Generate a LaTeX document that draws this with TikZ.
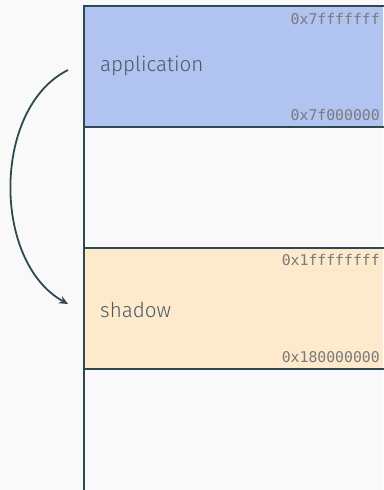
\documentclass[tikz,border=0pt]{standalone}
\usepackage{fontspec}
\setmainfont{Fira Sans Light}
\newfontfamily\hexfont{DejaVu Sans Mono}
\usetikzlibrary{arrows.meta}
\definecolor{bg}{HTML}{F9F9F9}
\definecolor{edge}{HTML}{2E4A50}
\definecolor{appfill}{HTML}{B1C3F1}
\definecolor{shfill}{HTML}{FDE9CC}
\definecolor{labeltext}{HTML}{4A5A62}
\definecolor{hextext}{HTML}{7A7A7A}
\tikzset{
  region/.style={draw=edge, line width=2.2pt},
  regname/.style={anchor=west, text=labeltext, font=\fontsize{20.6}{24}\selectfont, inner sep=0pt},
  addr/.style={anchor=east, text=hextext, font=\hexfont\fontsize{14.8}{17}\selectfont, inner sep=0pt},
  jump/.style={draw=edge, line width=1.8pt, -{Stealth[length=9pt,width=8pt,inset=3pt]}}
}
\begin{document}
\begin{tikzpicture}[x=1pt,y=-1pt]
  \useasboundingbox[fill=bg] (0,0) rectangle (383,490);
  % memory regions
  \fill[appfill] (84,6) rectangle (383,127);
  \fill[shfill] (84,248) rectangle (383,369);
  \draw[region] (390,6) -- (84,6) -- (84,491);
  \draw[region] (84,127) -- (390,127);
  \draw[region] (84,248) -- (390,248);
  \draw[region] (84,369) -- (390,369);
  % region names
  \node[regname] (app) at (100,66) {application};
  \node[regname] (sh) at (100,310) {shadow};
  % address bounds
  \node[addr] (a1) at (380,19) {0x7fffffff};
  \node[addr] (a2) at (380,115) {0x7f000000};
  \node[addr] (s1) at (380,260) {0x1ffffffff};
  \node[addr] (s2) at (380,357) {0x180000000};
  % remapping arrow
  \coordinate (from) at (68,70);
  \coordinate (to) at (68,304);
  \draw[jump] (from) .. controls (-8,108) and (-8,262) .. (to);
\end{tikzpicture}
\end{document}
